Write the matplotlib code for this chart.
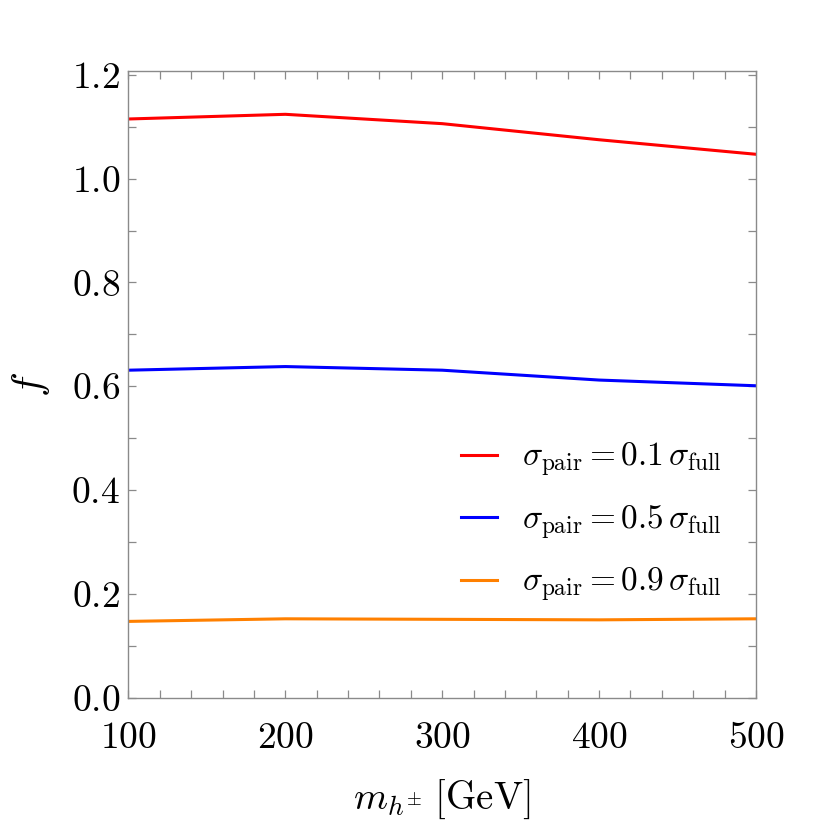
import matplotlib
matplotlib.use("Agg")
import matplotlib.pyplot as plt
import numpy as np
from matplotlib.ticker import MultipleLocator, FuncFormatter

plt.rcParams["mathtext.fontset"] = "cm"
plt.rcParams["font.family"] = "serif"
plt.rcParams["font.serif"] = ["cmr10", "DejaVu Serif"]

# charged Higgs mass (GeV)
mass = [100, 200, 300, 400, 500]
f_01 = [1.115, 1.124, 1.106, 1.075, 1.047]
f_05 = [0.631, 0.638, 0.631, 0.612, 0.601]
f_09 = [0.147, 0.152, 0.151, 0.150, 0.152]

labels = [
    r"$\sigma_{\rm pair} = 0.1\,\sigma_{\rm full}$",
    r"$\sigma_{\rm pair} = 0.5\,\sigma_{\rm full}$",
    r"$\sigma_{\rm pair} = 0.9\,\sigma_{\rm full}$",
]
colors = ["#FF0000", "#0000FF", "#FF8000"]

FRAME = "#8a8a8a"

fig = plt.figure(figsize=(8.3, 8.3), dpi=100)
ax = fig.add_axes([0.1548, 0.1594, 0.756, 0.7554])

for ys, lab, col in zip([f_01, f_05, f_09], labels, colors):
    ax.plot(mass, ys, color=col, linewidth=2.2, label=lab)

ax.set_xlim(100, 500)
ax.set_ylim(0, 1.208)

ax.xaxis.set_major_locator(MultipleLocator(100))
ax.xaxis.set_minor_locator(MultipleLocator(20))
ax.yaxis.set_major_locator(MultipleLocator(0.2))
ax.yaxis.set_minor_locator(MultipleLocator(0.1))
ax.xaxis.set_major_formatter(FuncFormatter(lambda v, p: r"$%d$" % round(v)))
ax.yaxis.set_major_formatter(FuncFormatter(lambda v, p: r"$%.1f$" % v))

for sp in ax.spines.values():
    sp.set_color(FRAME)
    sp.set_linewidth(1.0)

ax.tick_params(which="both", direction="in", top=True, right=True,
               length=5.5, width=0.9, color=FRAME)
ax.tick_params(which="major", labelsize=27)
ax.tick_params(axis="x", which="major", pad=17)
ax.tick_params(axis="y", which="major", pad=6)

ax.set_xlabel(r"$m_{h^{\pm}}\;[{\rm GeV}]$", fontsize=28, labelpad=17)
ax.set_ylabel(r"$f$", fontsize=30, labelpad=14)

ax.legend(loc="lower right", bbox_to_anchor=(0.946, 0.149), fontsize=24,
          frameon=False, handlelength=1.1, handletextpad=0.75,
          labelspacing=0.72, borderpad=0, borderaxespad=0)

fig.savefig("out.png", dpi=100)
